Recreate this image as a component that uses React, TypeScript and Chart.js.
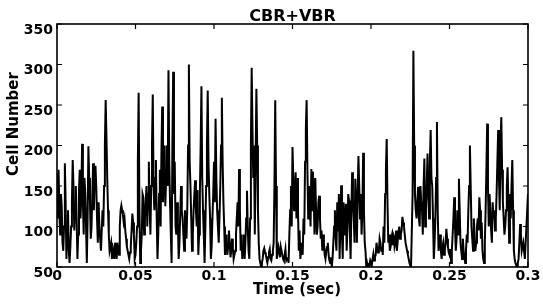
import React, { useEffect, useRef } from 'react';
import { Chart, registerables } from 'chart.js';

Chart.register(...registerables);

const titleText = 'CBR+VBR';
const xAxisTitle = 'Time (sec)';
const yAxisTitle = 'Cell Number';

const xTickValues = [0, 0.05, 0.1, 0.15, 0.2, 0.25, 0.3];
const xTickLabels = ['0', '0.05', '0.1', '0.15', '0.2', '0.25', '0.3'];
const yTickValues = [50, 100, 150, 200, 250, 300, 350];
const yTickLabels = ['50', '100', '150', '200', '250', '300', '350'];

const timeSpan = 0.3; // seconds covered by the samples

const cellNumbers = [
  165, 110, 170, 120, 90, 140, 125, 80, 70, 100, 178, 130, 60, 95, 120, 70, 55, 75, 100, 130, 182, 150, 95, 120, 150, 110, 60, 90, 145, 170, 110, 140, 202, 130, 90, 160, 140, 100, 55, 110, 199, 160,
  130, 85, 100, 140, 178, 120, 165, 175, 150, 110, 80, 130, 100, 85, 70, 95, 120, 100, 150, 200, 256, 210, 160, 120, 90, 70, 75, 80, 60, 65, 70, 60, 80, 72, 60, 80, 70, 65, 100, 120,
  126, 120, 115, 105, 110, 95, 85, 75, 70, 65, 60, 68, 75, 95, 116, 105, 90, 60, 65, 80, 100, 180, 265, 120, 55, 70, 90, 140, 136, 90, 110, 130, 150, 100, 140, 180, 125, 90, 150, 200,
  263, 150, 120, 160, 182, 110, 60, 90, 140, 170, 100, 190, 248, 130, 160, 200, 125, 160, 200, 150, 293, 180, 130, 90, 55, 200, 291, 140, 180, 100, 90, 130, 105, 60, 80, 115, 150, 120, 110, 90,
  70, 120, 100, 85, 125, 200, 300, 180, 150, 110, 70, 90, 120, 140, 157, 120, 100, 145, 65, 90, 140, 200, 273, 160, 120, 90, 55, 100, 150, 200, 268, 180, 140, 110, 60, 75, 110, 140, 180, 130,
  233, 160, 120, 100, 80, 110, 150, 200, 259, 180, 130, 100, 65, 80, 90, 65, 75, 95, 80, 62, 70, 85, 75, 60, 65, 70, 90, 110, 130, 100, 171, 120, 70, 90, 60, 75, 90, 60, 80, 110,
  144, 100, 70, 60, 110, 200, 296, 220, 160, 200, 90, 180, 270, 200, 120, 80, 60, 55, 50, 55, 60, 70, 73, 68, 65, 60, 55, 62, 68, 72, 60, 58, 65, 70, 80, 150, 256, 150, 60, 70,
  75, 68, 62, 75, 70, 65, 60, 58, 65, 72, 58, 60, 62, 55, 90, 120, 150, 100, 198, 160, 120, 140, 167, 110, 160, 120, 70, 95, 60, 70, 80, 65, 110, 90, 180, 220, 256, 170, 110, 150,
  130, 100, 171, 120, 168, 140, 90, 160, 120, 90, 100, 130, 138, 110, 85, 95, 70, 90, 80, 65, 60, 70, 75, 80, 65, 58, 55, 62, 50, 60, 80, 100, 120, 85, 70, 130, 95, 140, 60, 100,
  151, 90, 60, 130, 110, 90, 128, 70, 100, 140, 132, 95, 60, 120, 167, 130, 110, 80, 159, 130, 80, 140, 187, 150, 110, 140, 90, 120, 191, 120, 80, 70, 50, 55, 50, 50, 52, 58, 55, 52,
  60, 66, 58, 62, 65, 80, 72, 68, 70, 85, 80, 70, 75, 65, 100, 80, 140, 170, 208, 130, 80, 90, 70, 75, 85, 78, 91, 88, 75, 80, 95, 70, 82, 92, 100, 85, 90, 95, 112, 105,
  100, 90, 80, 75, 70, 65, 60, 55, 52, 50, 50, 140, 317, 200, 140, 120, 110, 130, 149, 110, 100, 150, 130, 120, 90, 150, 184, 100, 120, 150, 190, 140, 110, 180, 219, 160, 150, 110, 60, 80,
  110, 160, 229, 120, 70, 80, 90, 70, 60, 75, 80, 65, 70, 80, 97, 85, 75, 68, 65, 72, 55, 70, 90, 110, 136, 100, 70, 85, 120, 90, 159, 120, 80, 70, 60, 85, 70, 62, 55, 70,
  90, 80, 120, 150, 200, 150, 100, 85, 70, 110, 90, 70, 80, 100, 110, 95, 136, 120, 85, 105, 70, 60, 55, 80, 120, 170, 227, 150, 100, 140, 120, 95, 80, 130, 110, 120, 95, 110, 140, 180,
  219, 160, 120, 200, 235, 170, 130, 110, 90, 100, 120, 150, 173, 130, 80, 140, 110, 150, 182, 120, 70, 60, 55, 52, 50, 55, 60, 80, 103, 90, 70, 75, 80, 70, 60, 80, 100, 120, 140,
];

const FONT = 'DejaVu Sans';

const framePlugin = {
  id: 'matlabFrame',
  afterDraw(chart: any) {
    const { ctx, chartArea, scales } = chart;
    const { left, right, top, bottom } = chartArea;
    ctx.save();
    ctx.strokeStyle = '#000';
    ctx.lineWidth = 1.6;
    ctx.strokeRect(left, top, right - left, bottom - top);
    const tl = 5;
    ctx.lineWidth = 1.2;
    ctx.beginPath();
    yTickValues.forEach((v) => {
      const y = scales.y.getPixelForValue(v);
      ctx.moveTo(left, y);
      ctx.lineTo(left + tl, y);
      ctx.moveTo(right, y);
      ctx.lineTo(right - tl, y);
    });
    xTickValues.forEach((v) => {
      const x = scales.x.getPixelForValue(v);
      ctx.moveTo(x, top);
      ctx.lineTo(x, top + tl);
      ctx.moveTo(x, bottom);
      ctx.lineTo(x, bottom - tl);
    });
    ctx.stroke();

    ctx.fillStyle = '#000';
    ctx.textAlign = 'center';
    ctx.textBaseline = 'alphabetic';
    ctx.font = `bold 16px "${FONT}"`;
    ctx.fillText(titleText, (left + right) / 2, 21);

    ctx.font = `bold 15px "${FONT}"`;
    ctx.fillText(xAxisTitle, 297, 294);

    ctx.translate(18, 124);
    ctx.rotate(-Math.PI / 2);
    ctx.fillText(yAxisTitle, 0, 0);
    ctx.restore();
  },
};

export default function App() {
  const ref = useRef<HTMLCanvasElement | null>(null);

  useEffect(() => {
    if (!ref.current) return;
    const step = timeSpan / (cellNumbers.length - 1);
    const points = cellNumbers.map((v, i) => ({ x: i * step, y: v }));
    const chart = new Chart(ref.current, {
      type: 'line',
      data: {
        datasets: [
          {
            data: points,
            borderColor: '#000',
            borderWidth: 2,
            pointRadius: 0,
            tension: 0,
            fill: false,
          },
        ],
      },
      options: {
        animation: false,
        responsive: false,
        maintainAspectRatio: false,
        layout: { padding: { top: 24, right: 15, left: 0, bottom: 0 } },
        plugins: { legend: { display: false }, title: { display: false }, tooltip: { enabled: false } },
        scales: {
          x: {
            type: 'linear',
            min: 0,
            max: 0.3,
            afterBuildTicks: (scale: any) => {
              scale.ticks = xTickValues.map((v) => ({ value: v }));
            },
            afterFit: (scale: any) => {
              scale.height = 37;
            },
            grid: { display: false, drawTicks: false },
            border: { display: false },
            ticks: {
              autoSkip: false,
              maxRotation: 0,
              padding: 1,
              color: '#000',
              font: { family: FONT, size: 14, weight: 'bold' },
              callback: (_v: any, i: number) => xTickLabels[i],
            },
          },
          y: {
            type: 'linear',
            min: 50,
            max: 350,
            afterBuildTicks: (scale: any) => {
              scale.ticks = yTickValues.map((v) => ({ value: v }));
            },
            afterFit: (scale: any) => {
              scale.width = 57;
            },
            grid: { display: false, drawTicks: false },
            border: { display: false },
            ticks: {
              autoSkip: false,
              padding: 4,
              labelOffset: 6,
              color: '#000',
              font: { family: FONT, size: 14, weight: 'bold' },
              callback: (_v: any, i: number) => yTickLabels[i],
            },
          },
        },
      },
      plugins: [framePlugin],
    });
    return () => chart.destroy();
  }, []);

  return (
    <div style={{ position: 'absolute', left: 0, top: 0, width: 543, height: 304, background: '#fff' }}>
      <canvas ref={ref} width={543} height={304} style={{ display: 'block' }} />
    </div>
  );
}
